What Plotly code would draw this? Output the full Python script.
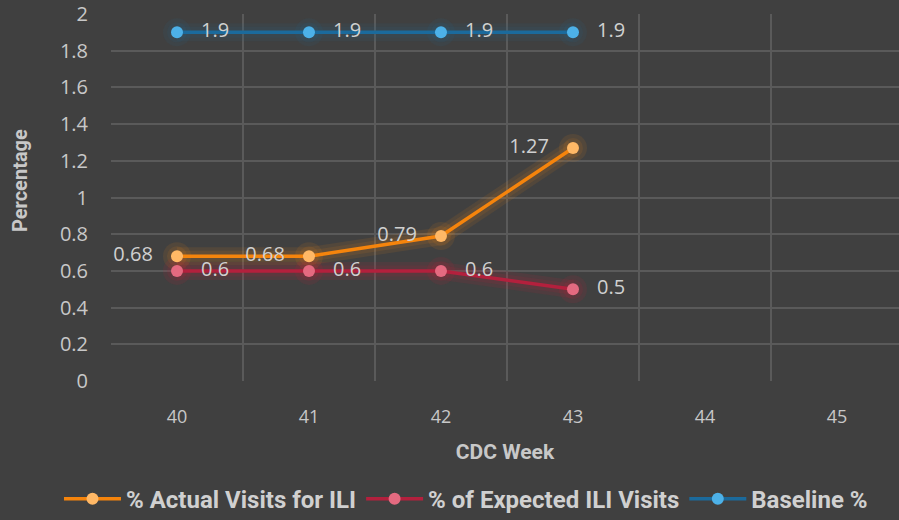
import plotly.graph_objects as go

weeks = [40, 41, 42, 43, 44, 45]
data_weeks = [40, 41, 42, 43]
actual_visits = [0.68, 0.68, 0.79, 1.27]
expected_visits = [0.6, 0.6, 0.6, 0.5]
baseline = [1.9, 1.9, 1.9, 1.9]
y_ticks = [0, 0.2, 0.4, 0.6, 0.8, 1, 1.2, 1.4, 1.6, 1.8, 2]
y_tick_text = ["0", "0.2", "0.4", "0.6", "0.8", "1", "1.2", "1.4", "1.6", "1.8", "2"]

series = [
    dict(name="% Actual Visits for ILI", y=actual_visits, line="#F5840C", marker="#FFB866",
         glow=(245, 140, 20), ga=0.10, side="left"),
    dict(name="% of Expected ILI Visits", y=expected_visits, line="#B3203D", marker="#E46A80",
         glow=(190, 30, 60), ga=0.12, side="right"),
    dict(name="Baseline %", y=baseline, line="#1B6A9C", marker="#4DB1E8",
         glow=(30, 110, 160), ga=0.09, side="right"),
]

label_font = dict(family="Open Sans, Noto Sans, sans-serif", size=20, color="#D0D0D0")
bold_font = "Roboto, Noto Sans, sans-serif"
pad = "\u00a0\u00a0\u00a0"

fig = go.Figure()
# soft glow layers
for s in series:
    r, g, b = s["glow"]
    for w, ms in [(18, 28), (11, 20)]:
        c = f"rgba({r},{g},{b},{s['ga']})"
        fig.add_trace(go.Scatter(
            x=data_weeks, y=s["y"], mode="lines+markers", showlegend=False, hoverinfo="skip",
            line=dict(color=c, width=w), marker=dict(color=c, size=ms),
        ))
for s in series:
    if s["side"] == "left":
        txt = [f"{v:g}" + pad for v in s["y"]]
        pos = "middle left"
    else:
        txt = [pad + f"{v:g}" for v in s["y"]]
        pos = "middle right"
    fig.add_trace(go.Scatter(
        x=data_weeks, y=s["y"], name=f"<b>{s['name']}</b>", mode="lines+markers+text",
        text=txt, textposition=pos, textfont=label_font,
        line=dict(color=s["line"], width=3.5),
        marker=dict(color=s["marker"], size=12),
    ))

fig.update_layout(
    width=899, height=520,
    paper_bgcolor="#404040", plot_bgcolor="#404040",
    margin=dict(l=111, r=0, t=14, b=139, autoexpand=False),
    showlegend=True,
    legend=dict(orientation="h", x=-0.066, xanchor="left", y=-0.322, yanchor="middle",
                font=dict(family=bold_font, size=24, color="#D0D0D0"),
                itemwidth=57, tracegroupgap=0, traceorder="normal",
                bgcolor="rgba(0,0,0,0)"),
    xaxis=dict(
        range=[39.5, 45.47], tickmode="array", tickvals=weeks, ticktext=[str(w) for w in weeks],
        showgrid=False, zeroline=False, showline=False,
        tickfont=dict(family="Open Sans, Noto Sans, sans-serif", size=18, color="#C8C8C8"),
        ticklabelstandoff=23,
        minor=dict(tickvals=[39.5, 40.5, 41.5, 42.5, 43.5, 44.5, 45.5], showgrid=True,
                   gridcolor="#5A5A5A", gridwidth=1.5, ticks=""),
        title=dict(text="<b>CDC Week</b>", font=dict(family=bold_font, size=21, color="#C8C8C8"),
                   standoff=17),
    ),
    yaxis=dict(
        range=[0, 2], tickmode="array", tickvals=y_ticks, ticktext=y_tick_text,
        showgrid=False, zeroline=False, showline=False, ticklabeloverflow="allow",
        tickfont=dict(family="Open Sans, Noto Sans, sans-serif", size=20, color="#C8C8C8"),
        ticklabelstandoff=22,
        minor=dict(tickvals=y_ticks[1:], showgrid=True, gridcolor="#5A5A5A", gridwidth=1.5, ticks=""),
    ),
    annotations=[dict(text="<b>Percentage</b>", textangle=-90, xref="paper", yref="paper",
                      x=-111/788 + 20/788, y=(381-180)/367, xanchor="center", yanchor="middle",
                      showarrow=False, font=dict(family=bold_font, size=20, color="#C8C8C8"))],
)

fig.write_html("out.html", config={"displayModeBar": False},
               post_script="document.body.style.margin='0';document.body.style.background='#404040';")
